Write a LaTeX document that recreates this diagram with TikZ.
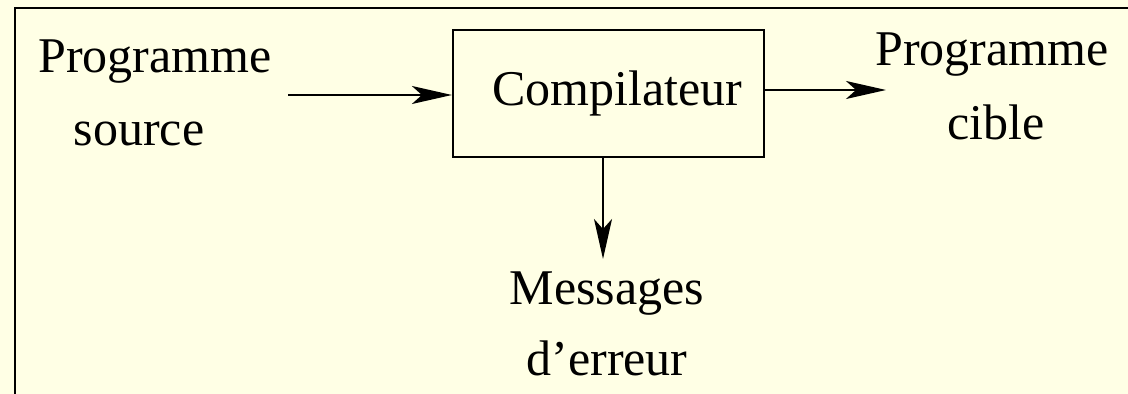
\documentclass[tikz,border=0pt]{standalone}
\usepackage{fontspec}
\setmainfont{Liberation Serif}
\usetikzlibrary{arrows.meta}
\definecolor{paper}{RGB}{255,255,229}
\tikzset{
  txt/.style={inner sep=0pt, anchor=base, font=\fontsize{25}{30}\selectfont},
  arr/.style={line width=1pt, -{Stealth[length=20pt,width=9pt,inset=5pt]}},
  box/.style={draw, line width=1.1pt, minimum width=155.5pt, minimum height=63.5pt,
    inner sep=0pt, font=\fontsize{25}{30}\selectfont}
}
\begin{document}
\begin{tikzpicture}[x=0.5pt,y=-0.5pt]
  \useasboundingbox (0,0) rectangle (1128,394);
  \fill[paper] (0,0) rectangle (1128,394);
  \begin{scope}
    \clip (0,0) rectangle (1128,394);
    \draw[line width=1pt] (15,8) rectangle (1140,410);
  \end{scope}

  % input program
  \node[txt] (srcA) at (155,73) {Programme};
  \node[txt] (srcB) at (139,146) {source};
  % compiler box
  \node[box] (comp) at (608.5,93.5) {\hspace*{9pt}Compilateur};
  % output program
  \node[txt] (outA) at (992,66) {Programme};
  \node[txt] (outB) at (996,140) {cible};
  % error messages
  \node[txt] (errA) at (607,305) {Messages};
  \node[txt] (errB) at (607,376) {d’erreur};

  \coordinate (inS) at (288,95);
  \coordinate (outS) at (comp.east |- 0,90);
  \coordinate (outE) at (886,90);
  \coordinate (errS) at (603,157);
  \coordinate (errE) at (603,259);

  \draw[arr] (inS) -- (comp.west |- inS);
  \draw[arr] (outS) -- (outE);
  \draw[arr] (errS) -- (errE);
\end{tikzpicture}
\end{document}
